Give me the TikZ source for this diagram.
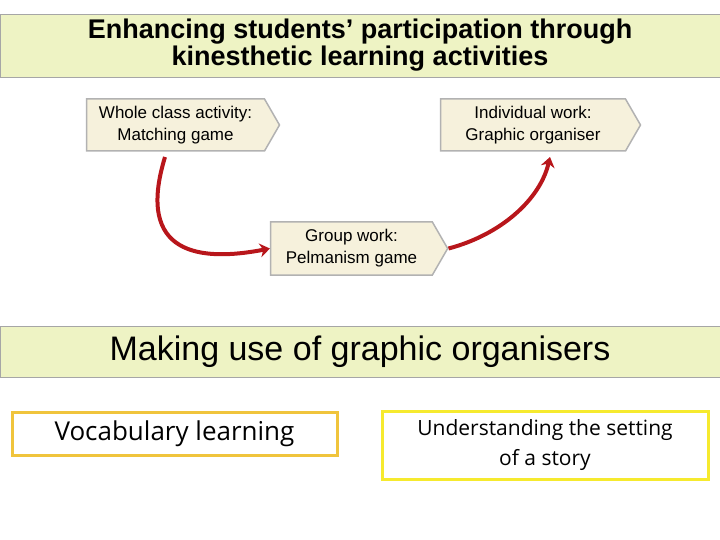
\documentclass[tikz,border=0pt]{standalone}
\usepackage{fontspec}
\setmainfont{Liberation Sans}
\newfontfamily\opensans{Open Sans}
\usetikzlibrary{shapes.symbols,arrows.meta}
\definecolor{bannergreen}{HTML}{EEF3C4}
\definecolor{boxbeige}{HTML}{F6F1DC}
\definecolor{arrowred}{HTML}{B8161B}
\definecolor{goldline}{HTML}{F0C43C}
\definecolor{yellowline}{HTML}{F6EA2E}
\tikzset{banner/.style={draw=gray!70,fill=bannergreen,minimum width=720pt,inner sep=0pt,align=center},
  stepbox/.style={signal,signal to=east,signal pointer angle=120,draw=gray!60,line width=1.5pt,
    fill=boxbeige,align=center,font=\fontsize{17pt}{22pt}\selectfont,inner sep=3pt},
  redarrow/.style={arrowred,line width=4pt,-{Stealth[length=10pt,width=14pt]}},
  outcome/.style={line width=3pt,fill=white,align=center}}

\begin{document}
\begin{tikzpicture}[x=1pt,y=-1pt]
\useasboundingbox (0,0) rectangle (720,540);
\node[banner,minimum height=63pt,font=\bfseries\fontsize{27pt}{27pt}\selectfont] (title) at (360,45.5)
  {Enhancing students’ participation through\\kinesthetic learning activities};
\node[stepbox,minimum width=193pt,minimum height=52pt] (whole) at (175.5,125) {Whole class activity:\\Matching game};
\node[stepbox,minimum width=200pt,minimum height=52pt] (indiv) at (533,125) {Individual work:\\Graphic organiser};
\node[stepbox,minimum width=177pt,minimum height=53pt] (group) at (351.5,248.5) {Group work:\\Pelmanism game};
\draw[redarrow] (165,157) .. controls (135,255) and (200,262) .. (group.west);
\draw[redarrow] (group.east) .. controls (500,235) and (540,200) .. (550,157);
\node[banner,minimum height=51pt,font=\fontsize{34pt}{36pt}\selectfont] (graphic) at (360,351.5)
  {Making use of graphic organisers};
\node[outcome,draw=goldline,minimum width=325pt,minimum height=43pt,font=\opensans\fontsize{26pt}{30pt}\selectfont] (vocab) at (174.5,433.5) {Vocabulary learning};
\node[outcome,draw=yellowline,minimum width=326pt,minimum height=68pt,font=\opensans\fontsize{21pt}{30pt}\selectfont] (setting) at (545,445) {Understanding the setting\\of a story};
\end{tikzpicture}
\end{document}
